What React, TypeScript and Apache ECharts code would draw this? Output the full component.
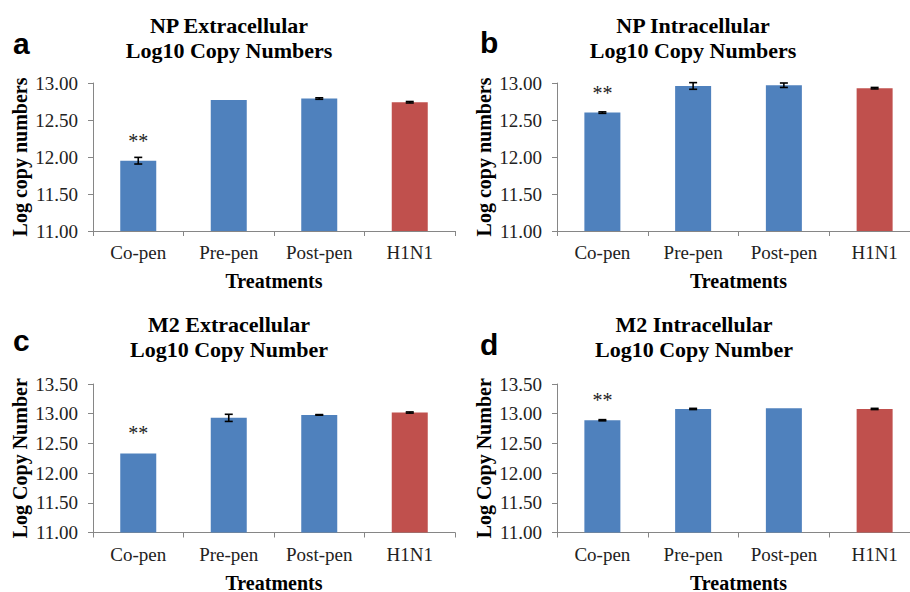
import React, { useEffect, useRef } from "react";
import * as echarts from "echarts";

const categories = ["Co-pen", "Pre-pen", "Post-pen", "H1N1"];

const npExtraValues = [11.95, 12.77, 12.79, 12.74];
const npExtraErrors = [0.045, 0, 0.01, 0.01];

const npIntraValues = [12.6, 12.96, 12.97, 12.93];
const npIntraErrors = [0.01, 0.045, 0.03, 0.01];

const m2ExtraValues = [12.33, 12.93, 12.98, 13.02];
const m2ExtraErrors = [0, 0.06, 0.005, 0.01];

const m2IntraValues = [12.89, 13.08, 13.09, 13.08];
const m2IntraErrors = [0.01, 0.01, 0, 0.01];

const significance = ["**", "", "", ""];

const topAxisTicks = { min: 11, max: 13, interval: 0.5 };
const bottomAxisTicks = { min: 11, max: 13.5, interval: 0.5 };

const BLUE = "#4F81BD";
const RED = "#C0504D";
const barColors = [BLUE, BLUE, BLUE, RED];
const AXIS = "#868686";
const SERIF = "Times New Roman, Liberation Serif, serif";
const SANS = "Arial, Liberation Sans, sans-serif";

type Panel = {
  letter: string;
  title1: string;
  title2: string;
  yName: string;
  values: number[];
  errors: number[];
  ticks: { min: number; max: number; interval: number };
  grid: { left: number; top: number; width: number; height: number };
  titleX: number;
  titleY: number;
  letterX: number;
  letterY: number;
};

const panels: Panel[] = [
  {
    letter: "a",
    title1: "NP Extracellular",
    title2: "Log10 Copy Numbers",
    yName: "Log copy numbers",
    values: npExtraValues,
    errors: npExtraErrors,
    ticks: topAxisTicks,
    grid: { left: 93, top: 83, width: 362, height: 148 },
    titleX: 229,
    titleY: 12.5,
    letterX: 13,
    letterY: 43,
  },
  {
    letter: "b",
    title1: "NP Intracellular",
    title2: "Log10 Copy Numbers",
    yName: "Log copy numbers",
    values: npIntraValues,
    errors: npIntraErrors,
    ticks: topAxisTicks,
    grid: { left: 557, top: 83, width: 363, height: 148 },
    titleX: 693,
    titleY: 12.5,
    letterX: 480,
    letterY: 42,
  },
  {
    letter: "c",
    title1: "M2 Extracellular",
    title2: "Log10 Copy Number",
    yName: "Log Copy Number",
    values: m2ExtraValues,
    errors: m2ExtraErrors,
    ticks: bottomAxisTicks,
    grid: { left: 93, top: 384, width: 362, height: 148.5 },
    titleX: 229,
    titleY: 311.5,
    letterX: 13,
    letterY: 340.5,
  },
  {
    letter: "d",
    title1: "M2 Intracellular",
    title2: "Log10 Copy Number",
    yName: "Log Copy Number",
    values: m2IntraValues,
    errors: m2IntraErrors,
    ticks: bottomAxisTicks,
    grid: { left: 557, top: 384, width: 363, height: 148.5 },
    titleX: 694,
    titleY: 311.5,
    letterX: 480,
    letterY: 344,
  },
];

export default function App() {
  const ref = useRef<HTMLDivElement>(null);

  useEffect(() => {
    document.body.style.margin = "0";
    if (!ref.current) return;
    const chart = echarts.init(ref.current, undefined, { renderer: "svg" });

    const grids: any[] = [];
    const xAxes: any[] = [];
    const yAxes: any[] = [];
    const series: any[] = [];
    const graphics: any[] = [];

    panels.forEach((p, i) => {
      grids.push({
        left: p.grid.left,
        top: p.grid.top,
        width: p.grid.width,
        height: p.grid.height,
        containLabel: false,
        outerBoundsMode: "none",
      });
      xAxes.push({
        type: "category",
        gridIndex: i,
        data: categories,
        name: "Treatments",
        nameLocation: "middle",
        nameGap: 40,
        nameTextStyle: { fontFamily: SERIF, fontSize: 20, fontWeight: "bold", color: "#000" },
        axisLine: { show: true, lineStyle: { color: AXIS, width: 1 } },
        axisTick: { show: true, length: 5, lineStyle: { color: AXIS } },
        axisLabel: { fontFamily: SERIF, fontSize: 19, color: "#222", margin: 12 },
        splitLine: { show: false },
      });
      yAxes.push({
        type: "value",
        gridIndex: i,
        min: p.ticks.min,
        max: p.ticks.max,
        interval: p.ticks.interval,
        name: p.yName,
        nameLocation: "middle",
        nameRotate: 90,
        nameGap: 63,
        nameTextStyle: { fontFamily: SERIF, fontSize: 20, fontWeight: "bold", color: "#000" },
        axisLine: { show: true, lineStyle: { color: AXIS, width: 1 } },
        axisTick: { show: true, length: 5, lineStyle: { color: AXIS } },
        axisLabel: {
          fontFamily: SERIF,
          fontSize: 19,
          color: "#222",
          margin: 15,
          formatter: (v: number) => v.toFixed(2),
        },
        splitLine: { show: false },
      });
      series.push({
        type: "bar",
        xAxisIndex: i,
        yAxisIndex: i,
        barWidth: 36,
        data: p.values.map((v, k) => ({
          value: v,
          itemStyle: { color: barColors[k] },
          label: {
            show: significance[k] !== "",
            formatter: significance[k],
            position: "top",
            distance: 10,
            fontFamily: SERIF,
            fontSize: 20,
            color: "#222",
          },
        })),
      });
      series.push({
        type: "custom",
        xAxisIndex: i,
        yAxisIndex: i,
        z: 5,
        encode: { x: 0, y: [1, 2] },
        data: p.values.map((v, k) => [k, v - p.errors[k], v + p.errors[k]]),
        renderItem: (params: any, api: any) => {
          const x = api.value(0);
          const lo = api.value(1);
          const hi = api.value(2);
          if (!(hi - lo > 0)) return { type: "group", children: [] };
          const a = api.coord([x, lo]);
          const b = api.coord([x, hi]);
          const w = 4;
          const st = { stroke: "#000", lineWidth: 1.6 };
          return {
            type: "group",
            children: [
              { type: "line", shape: { x1: a[0], y1: a[1], x2: b[0], y2: b[1] }, style: st },
              { type: "line", shape: { x1: a[0] - w, y1: a[1], x2: a[0] + w, y2: a[1] }, style: st },
              { type: "line", shape: { x1: b[0] - w, y1: b[1], x2: b[0] + w, y2: b[1] }, style: st },
            ],
          };
        },
      });
      graphics.push({
        type: "text",
        x: p.titleX,
        y: p.titleY,
        style: {
          text: p.title1 + "\n" + p.title2,
          fontFamily: SERIF,
          fontSize: 22,
          fontWeight: "bold",
          lineHeight: 25,
          align: "center",
          verticalAlign: "top",
          fill: "#000",
        },
      });
      graphics.push({
        type: "text",
        x: p.letterX,
        y: p.letterY,
        style: {
          text: p.letter,
          fontFamily: SANS,
          fontSize: 30,
          fontWeight: "bold",
          align: "left",
          verticalAlign: "middle",
          fill: "#000",
        },
      });
    });

    chart.setOption({
      animation: false,
      backgroundColor: "#fff",
      grid: grids,
      xAxis: xAxes,
      yAxis: yAxes,
      series,
      graphic: graphics,
    });

    return () => chart.dispose();
  }, []);

  return <div ref={ref} style={{ width: 910, height: 592 }} />;
}
